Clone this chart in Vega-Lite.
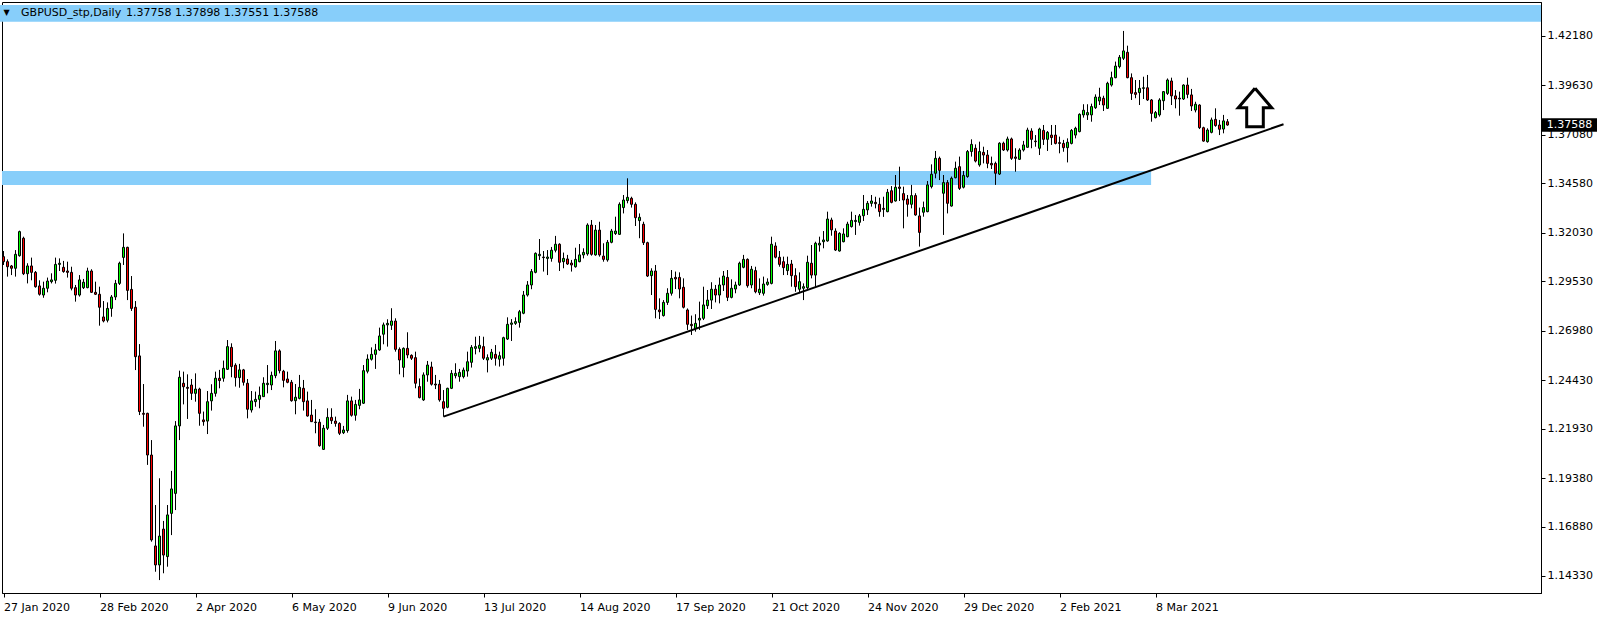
{
"$schema": "https://vega.github.io/schema/vega-lite/v6.json",
"width": 1539, "height": 591,
"autosize": {"type": "none"},
"padding": {"left": 2, "top": 2, "right": 63, "bottom": 25},
"background": "white",
"config": {"view": {"stroke": "black", "strokeWidth": 1}, "scale": {"continuousPadding": 0}},
"datasets": {
"bars": [
{"i":0,"o":1.3080,"h":1.3109,"l":1.3037,"c":1.3054},{"i":1,"o":1.3054,"h":1.3066,"l":1.2977,"c":1.3028},{"i":2,"o":1.3032,"h":1.3037,"l":1.2985,"c":1.3020},{"i":3,"o":1.3020,"h":1.3114,"l":1.2977,"c":1.3092},{"i":4,"o":1.3085,"h":1.3214,"l":1.3080,"c":1.3209},{"i":5,"o":1.3175,"h":1.3183,"l":1.2985,"c":1.2992},{"i":6,"o":1.2992,"h":1.3046,"l":1.2942,"c":1.3032},{"i":7,"o":1.3032,"h":1.3075,"l":1.2958,"c":1.2999},{"i":8,"o":1.2999,"h":1.3006,"l":1.2920,"c":1.2925},{"i":9,"o":1.2929,"h":1.2958,"l":1.2879,"c":1.2886},
{"i":10,"o":1.2882,"h":1.2951,"l":1.2868,"c":1.2917},{"i":11,"o":1.2917,"h":1.2972,"l":1.2896,"c":1.2954},{"i":12,"o":1.2951,"h":1.2994,"l":1.2942,"c":1.2960},{"i":13,"o":1.2958,"h":1.3075,"l":1.2941,"c":1.3040},{"i":14,"o":1.3040,"h":1.3071,"l":1.3006,"c":1.3046},{"i":15,"o":1.3025,"h":1.3058,"l":1.2997,"c":1.3003},{"i":16,"o":1.3006,"h":1.3054,"l":1.2972,"c":1.2999},{"i":17,"o":1.2999,"h":1.3028,"l":1.2906,"c":1.2917},{"i":18,"o":1.2920,"h":1.2934,"l":1.2848,"c":1.2882},{"i":19,"o":1.2882,"h":1.2985,"l":1.2874,"c":1.2960},
{"i":20,"o":1.2920,"h":1.2965,"l":1.2913,"c":1.2948},{"i":21,"o":1.2920,"h":1.3023,"l":1.2917,"c":1.3006},{"i":22,"o":1.3006,"h":1.3015,"l":1.2893,"c":1.2896},{"i":23,"o":1.2896,"h":1.2951,"l":1.2882,"c":1.2886},{"i":24,"o":1.2886,"h":1.2925,"l":1.2724,"c":1.2819},{"i":25,"o":1.2769,"h":1.2851,"l":1.2741,"c":1.2748},{"i":26,"o":1.2752,"h":1.2844,"l":1.2741,"c":1.2813},{"i":27,"o":1.2813,"h":1.2882,"l":1.2770,"c":1.2872},{"i":28,"o":1.2872,"h":1.2960,"l":1.2856,"c":1.2942},{"i":29,"o":1.2942,"h":1.3054,"l":1.2934,"c":1.3046},
{"i":30,"o":1.3076,"h":1.3200,"l":1.3037,"c":1.3128},{"i":31,"o":1.3128,"h":1.3131,"l":1.2856,"c":1.2906},{"i":32,"o":1.2911,"h":1.2980,"l":1.2800,"c":1.2813},{"i":33,"o":1.2819,"h":1.2851,"l":1.2495,"c":1.2564},{"i":34,"o":1.2568,"h":1.2629,"l":1.2263,"c":1.2281},{"i":35,"o":1.2272,"h":1.2423,"l":1.2203,"c":1.2267},{"i":36,"o":1.2272,"h":1.2275,"l":1.2006,"c":1.2057},{"i":37,"o":1.2057,"h":1.2134,"l":1.1610,"c":1.1619},{"i":38,"o":1.1588,"h":1.1799,"l":1.1455,"c":1.1490},{"i":39,"o":1.1490,"h":1.1937,"l":1.1412,"c":1.1639},
{"i":40,"o":1.1675,"h":1.1717,"l":1.1447,"c":1.1541},{"i":41,"o":1.1533,"h":1.1799,"l":1.1481,"c":1.1748},{"i":42,"o":1.1756,"h":1.1975,"l":1.1644,"c":1.1882},{"i":43,"o":1.1859,"h":1.2232,"l":1.1773,"c":1.2207},{"i":44,"o":1.2207,"h":1.2492,"l":1.2134,"c":1.2458},{"i":45,"o":1.2427,"h":1.2487,"l":1.2318,"c":1.2409},{"i":46,"o":1.2406,"h":1.2473,"l":1.2243,"c":1.2401},{"i":47,"o":1.2418,"h":1.2449,"l":1.2341,"c":1.2375},{"i":48,"o":1.2375,"h":1.2478,"l":1.2332,"c":1.2397},{"i":49,"o":1.2397,"h":1.2404,"l":1.2208,"c":1.2272},
{"i":50,"o":1.2238,"h":1.2281,"l":1.2208,"c":1.2229},{"i":51,"o":1.2232,"h":1.2387,"l":1.2165,"c":1.2332},{"i":52,"o":1.2336,"h":1.2422,"l":1.2286,"c":1.2375},{"i":53,"o":1.2375,"h":1.2487,"l":1.2358,"c":1.2453},{"i":54,"o":1.2453,"h":1.2496,"l":1.2401,"c":1.2441},{"i":55,"o":1.2453,"h":1.2544,"l":1.2435,"c":1.2504},{"i":56,"o":1.2499,"h":1.2650,"l":1.2496,"c":1.2616},{"i":57,"o":1.2612,"h":1.2633,"l":1.2458,"c":1.2513},{"i":58,"o":1.2520,"h":1.2530,"l":1.2410,"c":1.2456},{"i":59,"o":1.2456,"h":1.2527,"l":1.2404,"c":1.2496},
{"i":60,"o":1.2496,"h":1.2501,"l":1.2415,"c":1.2432},{"i":61,"o":1.2427,"h":1.2449,"l":1.2246,"c":1.2293},{"i":62,"o":1.2289,"h":1.2387,"l":1.2276,"c":1.2336},{"i":63,"o":1.2332,"h":1.2384,"l":1.2306,"c":1.2344},{"i":64,"o":1.2344,"h":1.2410,"l":1.2298,"c":1.2365},{"i":65,"o":1.2358,"h":1.2458,"l":1.2358,"c":1.2427},{"i":66,"o":1.2420,"h":1.2521,"l":1.2375,"c":1.2427},{"i":67,"o":1.2418,"h":1.2487,"l":1.2392,"c":1.2468},{"i":68,"o":1.2466,"h":1.2645,"l":1.2453,"c":1.2594},{"i":69,"o":1.2594,"h":1.2602,"l":1.2478,"c":1.2492},
{"i":70,"o":1.2489,"h":1.2496,"l":1.2406,"c":1.2442},{"i":71,"o":1.2449,"h":1.2487,"l":1.2427,"c":1.2432},{"i":72,"o":1.2432,"h":1.2444,"l":1.2332,"c":1.2337},{"i":73,"o":1.2337,"h":1.2423,"l":1.2267,"c":1.2355},{"i":74,"o":1.2349,"h":1.2470,"l":1.2344,"c":1.2406},{"i":75,"o":1.2401,"h":1.2444,"l":1.2286,"c":1.2332},{"i":76,"o":1.2336,"h":1.2384,"l":1.2255,"c":1.2258},{"i":77,"o":1.2263,"h":1.2341,"l":1.2227,"c":1.2229},{"i":78,"o":1.2227,"h":1.2293,"l":1.2169,"c":1.2224},{"i":79,"o":1.2226,"h":1.2243,"l":1.2100,"c":1.2105},
{"i":80,"o":1.2086,"h":1.2212,"l":1.2083,"c":1.2195},{"i":81,"o":1.2195,"h":1.2298,"l":1.2186,"c":1.2251},{"i":82,"o":1.2251,"h":1.2298,"l":1.2217,"c":1.2234},{"i":83,"o":1.2232,"h":1.2255,"l":1.2203,"c":1.2220},{"i":84,"o":1.2220,"h":1.2226,"l":1.2160,"c":1.2169},{"i":85,"o":1.2172,"h":1.2207,"l":1.2165,"c":1.2186},{"i":86,"o":1.2183,"h":1.2367,"l":1.2172,"c":1.2336},{"i":87,"o":1.2336,"h":1.2358,"l":1.2255,"c":1.2262},{"i":88,"o":1.2262,"h":1.2341,"l":1.2234,"c":1.2318},{"i":89,"o":1.2313,"h":1.2398,"l":1.2293,"c":1.2341},
{"i":90,"o":1.2324,"h":1.2521,"l":1.2320,"c":1.2492},{"i":91,"o":1.2489,"h":1.2576,"l":1.2478,"c":1.2552},{"i":92,"o":1.2551,"h":1.2612,"l":1.2544,"c":1.2576},{"i":93,"o":1.2576,"h":1.2630,"l":1.2501,"c":1.2599},{"i":94,"o":1.2599,"h":1.2714,"l":1.2594,"c":1.2671},{"i":95,"o":1.2680,"h":1.2740,"l":1.2628,"c":1.2728},{"i":96,"o":1.2728,"h":1.2757,"l":1.2616,"c":1.2736},{"i":97,"o":1.2726,"h":1.2814,"l":1.2702,"c":1.2748},{"i":98,"o":1.2748,"h":1.2762,"l":1.2590,"c":1.2602},{"i":99,"o":1.2602,"h":1.2612,"l":1.2473,"c":1.2547},
{"i":100,"o":1.2509,"h":1.2612,"l":1.2458,"c":1.2607},{"i":101,"o":1.2607,"h":1.2690,"l":1.2556,"c":1.2573},{"i":102,"o":1.2571,"h":1.2576,"l":1.2547,"c":1.2556},{"i":103,"o":1.2559,"h":1.2590,"l":1.2401,"c":1.2427},{"i":104,"o":1.2410,"h":1.2452,"l":1.2349,"c":1.2353},{"i":105,"o":1.2341,"h":1.2483,"l":1.2336,"c":1.2470},{"i":106,"o":1.2470,"h":1.2542,"l":1.2435,"c":1.2521},{"i":107,"o":1.2511,"h":1.2538,"l":1.2415,"c":1.2422},{"i":108,"o":1.2423,"h":1.2470,"l":1.2397,"c":1.2418},{"i":109,"o":1.2422,"h":1.2444,"l":1.2332,"c":1.2341},
{"i":110,"o":1.2332,"h":1.2392,"l":1.2255,"c":1.2298},{"i":111,"o":1.2303,"h":1.2404,"l":1.2298,"c":1.2401},{"i":112,"o":1.2401,"h":1.2495,"l":1.2397,"c":1.2478},{"i":113,"o":1.2466,"h":1.2530,"l":1.2452,"c":1.2478},{"i":114,"o":1.2461,"h":1.2501,"l":1.2435,"c":1.2483},{"i":115,"o":1.2461,"h":1.2508,"l":1.2452,"c":1.2495},{"i":116,"o":1.2490,"h":1.2590,"l":1.2461,"c":1.2538},{"i":117,"o":1.2535,"h":1.2624,"l":1.2508,"c":1.2612},{"i":118,"o":1.2607,"h":1.2667,"l":1.2576,"c":1.2616},{"i":119,"o":1.2607,"h":1.2671,"l":1.2587,"c":1.2623},
{"i":120,"o":1.2616,"h":1.2667,"l":1.2547,"c":1.2556},{"i":121,"o":1.2547,"h":1.2576,"l":1.2483,"c":1.2559},{"i":122,"o":1.2556,"h":1.2604,"l":1.2547,"c":1.2587},{"i":123,"o":1.2576,"h":1.2624,"l":1.2518,"c":1.2556},{"i":124,"o":1.2551,"h":1.2590,"l":1.2513,"c":1.2569},{"i":125,"o":1.2556,"h":1.2667,"l":1.2518,"c":1.2662},{"i":126,"o":1.2655,"h":1.2767,"l":1.2650,"c":1.2731},{"i":127,"o":1.2731,"h":1.2758,"l":1.2645,"c":1.2738},{"i":128,"o":1.2736,"h":1.2767,"l":1.2728,"c":1.2745},{"i":129,"o":1.2741,"h":1.2805,"l":1.2714,"c":1.2796},
{"i":130,"o":1.2788,"h":1.2903,"l":1.2783,"c":1.2882},{"i":131,"o":1.2882,"h":1.2954,"l":1.2874,"c":1.2934},{"i":132,"o":1.2934,"h":1.3016,"l":1.2912,"c":1.3003},{"i":133,"o":1.2999,"h":1.3102,"l":1.2994,"c":1.3097},{"i":134,"o":1.3085,"h":1.3171,"l":1.3063,"c":1.3092},{"i":135,"o":1.3078,"h":1.3109,"l":1.3003,"c":1.3075},{"i":136,"o":1.3071,"h":1.3114,"l":1.2985,"c":1.3078},{"i":137,"o":1.3071,"h":1.3130,"l":1.3054,"c":1.3113},{"i":138,"o":1.3113,"h":1.3187,"l":1.3102,"c":1.3144},{"i":139,"o":1.3144,"h":1.3149,"l":1.3006,"c":1.3051},
{"i":140,"o":1.3054,"h":1.3101,"l":1.3020,"c":1.3071},{"i":141,"o":1.3068,"h":1.3089,"l":1.3037,"c":1.3042},{"i":142,"o":1.3047,"h":1.3063,"l":1.3003,"c":1.3037},{"i":143,"o":1.3028,"h":1.3126,"l":1.3023,"c":1.3066},{"i":144,"o":1.3054,"h":1.3145,"l":1.3051,"c":1.3089},{"i":145,"o":1.3089,"h":1.3123,"l":1.3071,"c":1.3102},{"i":146,"o":1.3094,"h":1.3252,"l":1.3085,"c":1.3243},{"i":147,"o":1.3243,"h":1.3269,"l":1.3085,"c":1.3092},{"i":148,"o":1.3089,"h":1.3243,"l":1.3085,"c":1.3217},{"i":149,"o":1.3217,"h":1.3260,"l":1.3080,"c":1.3089},
{"i":150,"o":1.3083,"h":1.3149,"l":1.3054,"c":1.3066},{"i":151,"o":1.3063,"h":1.3166,"l":1.3054,"c":1.3154},{"i":152,"o":1.3154,"h":1.3223,"l":1.3149,"c":1.3212},{"i":153,"o":1.3199,"h":1.3286,"l":1.3192,"c":1.3212},{"i":154,"o":1.3195,"h":1.3360,"l":1.3192,"c":1.3350},{"i":155,"o":1.3333,"h":1.3398,"l":1.3303,"c":1.3372},{"i":156,"o":1.3369,"h":1.3484,"l":1.3355,"c":1.3386},{"i":157,"o":1.3381,"h":1.3389,"l":1.3333,"c":1.3350},{"i":158,"o":1.3350,"h":1.3360,"l":1.3238,"c":1.3281},{"i":159,"o":1.3266,"h":1.3303,"l":1.3175,"c":1.3283},
{"i":160,"o":1.3247,"h":1.3260,"l":1.3140,"c":1.3152},{"i":161,"o":1.3152,"h":1.3157,"l":1.2975,"c":1.2980},{"i":162,"o":1.2982,"h":1.3020,"l":1.2882,"c":1.3006},{"i":163,"o":1.3006,"h":1.3037,"l":1.2762,"c":1.2808},{"i":164,"o":1.2805,"h":1.2865,"l":1.2758,"c":1.2796},{"i":165,"o":1.2776,"h":1.2856,"l":1.2771,"c":1.2844},{"i":166,"o":1.2844,"h":1.2917,"l":1.2831,"c":1.2891},{"i":167,"o":1.2891,"h":1.3011,"l":1.2879,"c":1.2968},{"i":168,"o":1.2973,"h":1.3003,"l":1.2913,"c":1.2965},{"i":169,"o":1.2973,"h":1.2999,"l":1.2865,"c":1.2913},
{"i":170,"o":1.2922,"h":1.2968,"l":1.2813,"c":1.2819},{"i":171,"o":1.2805,"h":1.2813,"l":1.2702,"c":1.2731},{"i":172,"o":1.2731,"h":1.2776,"l":1.2676,"c":1.2724},{"i":173,"o":1.2710,"h":1.2783,"l":1.2693,"c":1.2736},{"i":174,"o":1.2753,"h":1.2848,"l":1.2702,"c":1.2762},{"i":175,"o":1.2762,"h":1.2925,"l":1.2753,"c":1.2831},{"i":176,"o":1.2827,"h":1.2908,"l":1.2810,"c":1.2856},{"i":177,"o":1.2856,"h":1.2948,"l":1.2810,"c":1.2912},{"i":178,"o":1.2912,"h":1.2934,"l":1.2844,"c":1.2882},{"i":179,"o":1.2882,"h":1.2972,"l":1.2839,"c":1.2934},
{"i":180,"o":1.2934,"h":1.3006,"l":1.2903,"c":1.2980},{"i":181,"o":1.2973,"h":1.3011,"l":1.2851,"c":1.2870},{"i":182,"o":1.2870,"h":1.2963,"l":1.2865,"c":1.2917},{"i":183,"o":1.2913,"h":1.2951,"l":1.2891,"c":1.2934},{"i":184,"o":1.2934,"h":1.3054,"l":1.2929,"c":1.3046},{"i":185,"o":1.3025,"h":1.3089,"l":1.3020,"c":1.3066},{"i":186,"o":1.3066,"h":1.3071,"l":1.2920,"c":1.2930},{"i":187,"o":1.2934,"h":1.3032,"l":1.2917,"c":1.3015},{"i":188,"o":1.3008,"h":1.3028,"l":1.2891,"c":1.2899},{"i":189,"o":1.2894,"h":1.2968,"l":1.2882,"c":1.2912},
{"i":190,"o":1.2891,"h":1.2977,"l":1.2879,"c":1.2939},{"i":191,"o":1.2937,"h":1.2968,"l":1.2930,"c":1.2949},{"i":192,"o":1.2942,"h":1.3183,"l":1.2937,"c":1.3144},{"i":193,"o":1.3135,"h":1.3154,"l":1.3071,"c":1.3077},{"i":194,"o":1.3077,"h":1.3109,"l":1.3028,"c":1.3040},{"i":195,"o":1.3054,"h":1.3080,"l":1.2985,"c":1.3023},{"i":196,"o":1.3008,"h":1.3080,"l":1.2985,"c":1.3040},{"i":197,"o":1.3042,"h":1.3063,"l":1.2925,"c":1.2982},{"i":198,"o":1.2982,"h":1.3020,"l":1.2899,"c":1.2925},{"i":199,"o":1.2912,"h":1.2999,"l":1.2891,"c":1.2951},
{"i":200,"o":1.2917,"h":1.2942,"l":1.2856,"c":1.2925},{"i":201,"o":1.2920,"h":1.3085,"l":1.2913,"c":1.3051},{"i":202,"o":1.3046,"h":1.3140,"l":1.2968,"c":1.2985},{"i":203,"o":1.2985,"h":1.3157,"l":1.2925,"c":1.3149},{"i":204,"o":1.3140,"h":1.3183,"l":1.3106,"c":1.3149},{"i":205,"o":1.3157,"h":1.3212,"l":1.3123,"c":1.3166},{"i":206,"o":1.3161,"h":1.3312,"l":1.3157,"c":1.3274},{"i":207,"o":1.3269,"h":1.3281,"l":1.3188,"c":1.3218},{"i":208,"o":1.3212,"h":1.3226,"l":1.3109,"c":1.3114},{"i":209,"o":1.3109,"h":1.3206,"l":1.3106,"c":1.3200},
{"i":210,"o":1.3157,"h":1.3226,"l":1.3154,"c":1.3197},{"i":211,"o":1.3183,"h":1.3260,"l":1.3180,"c":1.3248},{"i":212,"o":1.3235,"h":1.3312,"l":1.3230,"c":1.3267},{"i":213,"o":1.3261,"h":1.3295,"l":1.3192,"c":1.3267},{"i":214,"o":1.3257,"h":1.3300,"l":1.3240,"c":1.3290},{"i":215,"o":1.3291,"h":1.3398,"l":1.3264,"c":1.3324},{"i":216,"o":1.3321,"h":1.3367,"l":1.3295,"c":1.3355},{"i":217,"o":1.3355,"h":1.3398,"l":1.3338,"c":1.3367},{"i":218,"o":1.3360,"h":1.3389,"l":1.3329,"c":1.3353},{"i":219,"o":1.3350,"h":1.3384,"l":1.3286,"c":1.3312},
{"i":220,"o":1.3329,"h":1.3389,"l":1.3285,"c":1.3324},{"i":221,"o":1.3312,"h":1.3429,"l":1.3309,"c":1.3412},{"i":222,"o":1.3420,"h":1.3444,"l":1.3355,"c":1.3360},{"i":223,"o":1.3367,"h":1.3501,"l":1.3364,"c":1.3438},{"i":224,"o":1.3439,"h":1.3544,"l":1.3367,"c":1.3432},{"i":225,"o":1.3405,"h":1.3441,"l":1.3226,"c":1.3372},{"i":226,"o":1.3377,"h":1.3398,"l":1.3286,"c":1.3350},{"i":227,"o":1.3350,"h":1.3450,"l":1.3329,"c":1.3395},{"i":228,"o":1.3395,"h":1.3407,"l":1.3291,"c":1.3295},{"i":229,"o":1.3290,"h":1.3333,"l":1.3132,"c":1.3205},
{"i":230,"o":1.3309,"h":1.3364,"l":1.3286,"c":1.3333},{"i":231,"o":1.3312,"h":1.3470,"l":1.3309,"c":1.3450},{"i":232,"o":1.3441,"h":1.3556,"l":1.3432,"c":1.3505},{"i":233,"o":1.3510,"h":1.3625,"l":1.3484,"c":1.3587},{"i":234,"o":1.3587,"h":1.3596,"l":1.3475,"c":1.3525},{"i":235,"o":1.3407,"h":1.3501,"l":1.3192,"c":1.3462},{"i":236,"o":1.3462,"h":1.3475,"l":1.3303,"c":1.3355},{"i":237,"o":1.3341,"h":1.3493,"l":1.3338,"c":1.3484},{"i":238,"o":1.3487,"h":1.3570,"l":1.3484,"c":1.3536},{"i":239,"o":1.3544,"h":1.3596,"l":1.3424,"c":1.3432},
{"i":240,"o":1.3438,"h":1.3522,"l":1.3432,"c":1.3499},{"i":241,"o":1.3493,"h":1.3630,"l":1.3487,"c":1.3622},{"i":242,"o":1.3622,"h":1.3685,"l":1.3596,"c":1.3659},{"i":243,"o":1.3639,"h":1.3659,"l":1.3566,"c":1.3573},{"i":244,"o":1.3553,"h":1.3673,"l":1.3544,"c":1.3622},{"i":245,"o":1.3618,"h":1.3647,"l":1.3561,"c":1.3604},{"i":246,"o":1.3604,"h":1.3630,"l":1.3536,"c":1.3561},{"i":247,"o":1.3561,"h":1.3596,"l":1.3532,"c":1.3553},{"i":248,"o":1.3561,"h":1.3570,"l":1.3450,"c":1.3510},{"i":249,"o":1.3506,"h":1.3670,"l":1.3501,"c":1.3665},
{"i":250,"o":1.3665,"h":1.3673,"l":1.3625,"c":1.3630},{"i":251,"o":1.3630,"h":1.3699,"l":1.3622,"c":1.3687},{"i":252,"o":1.3687,"h":1.3694,"l":1.3579,"c":1.3587},{"i":253,"o":1.3594,"h":1.3639,"l":1.3518,"c":1.3587},{"i":254,"o":1.3582,"h":1.3639,"l":1.3579,"c":1.3630},{"i":255,"o":1.3630,"h":1.3677,"l":1.3622,"c":1.3656},{"i":256,"o":1.3644,"h":1.3745,"l":1.3642,"c":1.3733},{"i":257,"o":1.3728,"h":1.3742,"l":1.3639,"c":1.3685},{"i":258,"o":1.3676,"h":1.3707,"l":1.3647,"c":1.3673},{"i":259,"o":1.3639,"h":1.3745,"l":1.3604,"c":1.3738},
{"i":260,"o":1.3731,"h":1.3759,"l":1.3656,"c":1.3685},{"i":261,"o":1.3685,"h":1.3728,"l":1.3625,"c":1.3721},{"i":262,"o":1.3707,"h":1.3759,"l":1.3656,"c":1.3694},{"i":263,"o":1.3707,"h":1.3759,"l":1.3659,"c":1.3664},{"i":264,"o":1.3668,"h":1.3699,"l":1.3613,"c":1.3664},{"i":265,"o":1.3664,"h":1.3682,"l":1.3621,"c":1.3642},{"i":266,"o":1.3642,"h":1.3690,"l":1.3566,"c":1.3670},{"i":267,"o":1.3664,"h":1.3738,"l":1.3659,"c":1.3731},{"i":268,"o":1.3707,"h":1.3750,"l":1.3690,"c":1.3742},{"i":269,"o":1.3725,"h":1.3819,"l":1.3721,"c":1.3814},
{"i":270,"o":1.3811,"h":1.3866,"l":1.3797,"c":1.3835},{"i":271,"o":1.3811,"h":1.3866,"l":1.3785,"c":1.3823},{"i":272,"o":1.3811,"h":1.3869,"l":1.3776,"c":1.3854},{"i":273,"o":1.3848,"h":1.3917,"l":1.3842,"c":1.3903},{"i":274,"o":1.3883,"h":1.3951,"l":1.3862,"c":1.3903},{"i":275,"o":1.3897,"h":1.3910,"l":1.3831,"c":1.3862},{"i":276,"o":1.3845,"h":1.3982,"l":1.3842,"c":1.3974},{"i":277,"o":1.3965,"h":1.4034,"l":1.3957,"c":1.4003},{"i":278,"o":1.4003,"h":1.4086,"l":1.4000,"c":1.4063},{"i":279,"o":1.4060,"h":1.4120,"l":1.4051,"c":1.4108},
{"i":280,"o":1.4103,"h":1.4244,"l":1.4094,"c":1.4141},{"i":281,"o":1.4134,"h":1.4168,"l":1.4000,"c":1.4003},{"i":282,"o":1.4003,"h":1.4025,"l":1.3888,"c":1.3922},{"i":283,"o":1.3926,"h":1.3991,"l":1.3897,"c":1.3917},{"i":284,"o":1.3926,"h":1.3991,"l":1.3862,"c":1.3948},{"i":285,"o":1.3948,"h":1.4008,"l":1.3893,"c":1.3951},{"i":286,"o":1.3951,"h":1.4017,"l":1.3883,"c":1.3888},{"i":287,"o":1.3888,"h":1.3893,"l":1.3776,"c":1.3819},{"i":288,"o":1.3797,"h":1.3831,"l":1.3793,"c":1.3823},{"i":289,"o":1.3811,"h":1.3897,"l":1.3802,"c":1.3888},
{"i":290,"o":1.3884,"h":1.3934,"l":1.3836,"c":1.3931},{"i":291,"o":1.3922,"h":1.3999,"l":1.3914,"c":1.3991},{"i":292,"o":1.3986,"h":1.4003,"l":1.3862,"c":1.3909},{"i":293,"o":1.3909,"h":1.3939,"l":1.3845,"c":1.3893},{"i":294,"o":1.3897,"h":1.3931,"l":1.3807,"c":1.3893},{"i":295,"o":1.3893,"h":1.3969,"l":1.3888,"c":1.3965},{"i":296,"o":1.3965,"h":1.4003,"l":1.3897,"c":1.3917},{"i":297,"o":1.3914,"h":1.3945,"l":1.3831,"c":1.3857},{"i":298,"o":1.3836,"h":1.3879,"l":1.3824,"c":1.3866},{"i":299,"o":1.3862,"h":1.3866,"l":1.3738,"c":1.3745},
{"i":300,"o":1.3745,"h":1.3750,"l":1.3673,"c":1.3676},{"i":301,"o":1.3673,"h":1.3742,"l":1.3668,"c":1.3733},{"i":302,"o":1.3721,"h":1.3797,"l":1.3716,"c":1.3785},{"i":303,"o":1.3788,"h":1.3845,"l":1.3750,"c":1.3756},{"i":304,"o":1.3759,"h":1.3785,"l":1.3707,"c":1.3737},{"i":305,"o":1.3738,"h":1.3811,"l":1.3716,"c":1.3780},{"i":306,"o":1.37758,"h":1.37898,"l":1.37551,"c":1.37588}
],
"trend": [{"i":110,"p":1.2255},{"i":320,"p":1.3763}],
"arrow": [{"k":0,"i":312.875,"p":1.39483},{"k":1,"i":317.05,"p":1.38482},{"k":2,"i":314.95,"p":1.38482},{"k":3,"i":314.95,"p":1.37502},{"k":4,"i":310.8,"p":1.37502},{"k":5,"i":310.8,"p":1.38482},{"k":6,"i":308.7,"p":1.38482},{"k":7,"i":312.875,"p":1.39483}],
"one": [{}]
},
"layer": [
{"data": {"name": "one"}, "mark": {"type": "rect", "color": "#87CEFA"},
 "encoding": {"x": {"datum": -0.875, "type": "quantitative", "scale": {"domain": [-0.375, 384.375], "nice": false, "zero": false, "padding": 0}}, "x2": {"datum": 384.375},
  "y": {"datum": 1.43779, "type": "quantitative", "scale": {"domain": [1.13453, 1.43933], "nice": false, "zero": false, "padding": 0}}, "y2": {"datum": 1.42917}}},
{"data": {"name": "one"}, "mark": {"type": "rect", "color": "#87CEFA"},
 "encoding": {"x": {"datum": -0.375, "type": "quantitative", "scale": {"domain": [-0.375, 384.375], "nice": false, "zero": false, "padding": 0}}, "x2": {"datum": 286.9},
  "y": {"datum": 1.35218, "type": "quantitative", "scale": {"domain": [1.13453, 1.43933], "nice": false, "zero": false, "padding": 0}}, "y2": {"datum": 1.34496}}},
{"data": {"name": "bars"}, "mark": {"type": "rule", "color": "black", "strokeWidth": 1},
 "encoding": {
  "x": {"field": "i", "type": "quantitative", "scale": {"domain": [-0.375, 384.375], "nice": false, "zero": false, "padding": 0},
   "axis": {"title": null, "orient": "bottom", "grid": false, "values": [0,24,48,72,96,120,144,168,192,216,240,264,288],
    "labelExpr": "['27 Jan 2020','28 Feb 2020','2 Apr 2020','6 May 2020','9 Jun 2020','13 Jul 2020','14 Aug 2020','17 Sep 2020','21 Oct 2020','24 Nov 2020','29 Dec 2020','2 Feb 2021','8 Mar 2021'][round(datum.value/24)]",
    "labelAlign": "left", "labelBaseline": "top", "labelPadding": 4, "labelFont": "DejaVu Sans", "labelFontSize": 11, "labelColor": "black",
    "tickSize": 4, "tickColor": "black", "domainColor": "black", "labelFlush": false, "labelOverlap": false, "zindex": 0}},
  "y": {"field": "l", "type": "quantitative", "scale": {"domain": [1.13453, 1.43933], "nice": false, "zero": false, "padding": 0},
   "axis": {"title": null, "orient": "right", "grid": false, "values": [1.4218,1.3963,1.3708,1.3458,1.3203,1.2953,1.2698,1.2443,1.2193,1.1938,1.1688,1.1433],
    "format": ".5f", "labelPadding": 2, "labelFont": "DejaVu Sans", "labelFontSize": 11, "labelColor": "black", "labelBaseline": "middle",
    "tickSize": 4, "tickColor": "black", "domainColor": "black", "labelFlush": false, "labelOverlap": false, "zindex": 0}},
  "y2": {"field": "h"}}},
{"data": {"name": "bars"}, "mark": {"type": "bar", "size": 2, "stroke": "black", "strokeWidth": 1},
 "encoding": {
  "x": {"field": "i", "type": "quantitative", "title": null, "scale": {"domain": [-0.375, 384.375], "nice": false, "zero": false, "padding": 0}},
  "y": {"field": "o", "type": "quantitative", "title": null, "scale": {"domain": [1.13453, 1.43933], "nice": false, "zero": false, "padding": 0}},
  "y2": {"field": "c"},
  "fill": {"condition": {"test": "datum.o > datum.c", "value": "#FF0000"}, "value": "#00FF00"}}},
{"data": {"name": "trend"}, "mark": {"type": "line", "color": "black", "strokeWidth": 2},
 "encoding": {
  "x": {"field": "i", "type": "quantitative", "title": null, "scale": {"domain": [-0.375, 384.375], "nice": false, "zero": false, "padding": 0}},
  "y": {"field": "p", "type": "quantitative", "title": null, "scale": {"domain": [1.13453, 1.43933], "nice": false, "zero": false, "padding": 0}}}},
{"data": {"name": "arrow"}, "mark": {"type": "line", "color": "black", "strokeWidth": 3, "strokeJoin": "miter"},
 "encoding": {
  "x": {"field": "i", "type": "quantitative", "title": null, "scale": {"domain": [-0.375, 384.375], "nice": false, "zero": false, "padding": 0}},
  "y": {"field": "p", "type": "quantitative", "title": null, "scale": {"domain": [1.13453, 1.43933], "nice": false, "zero": false, "padding": 0}},
  "order": {"field": "k"}}},
{"data": {"name": "one"}, "mark": {"type": "text", "text": "▼", "font": "DejaVu Sans", "fontSize": 8, "align": "center", "baseline": "middle", "color": "black"},
 "encoding": {"x": {"datum": 0.75, "type": "quantitative"}, "y": {"datum": 1.43351, "type": "quantitative"}}},
{"data": {"name": "one"}, "mark": {"type": "text", "text": "GBPUSD_stp,Daily", "font": "DejaVu Sans", "fontSize": 11, "align": "left", "baseline": "middle", "color": "black"},
 "encoding": {"x": {"datum": 4.4, "type": "quantitative"}, "y": {"datum": 1.43351, "type": "quantitative"}}},
{"data": {"name": "one"}, "mark": {"type": "text", "text": "1.37758 1.37898 1.37551 1.37588", "font": "DejaVu Sans", "fontSize": 11, "align": "left", "baseline": "middle", "color": "black"},
 "encoding": {"x": {"datum": 30.6, "type": "quantitative"}, "y": {"datum": 1.43351, "type": "quantitative"}}},
{"data": {"name": "one"}, "mark": {"type": "rect", "color": "black"},
 "encoding": {"x": {"datum": 384.55, "type": "quantitative"}, "x2": {"datum": 398.375}, "y": {"datum": 1.37936, "type": "quantitative"}, "y2": {"datum": 1.37245}}},
{"data": {"name": "one"}, "mark": {"type": "text", "text": "1.37588", "font": "DejaVu Sans", "fontSize": 11, "align": "left", "baseline": "middle", "color": "white"},
 "encoding": {"x": {"datum": 385.8, "type": "quantitative"}, "y": {"datum": 1.37588, "type": "quantitative"}}}
]
}
